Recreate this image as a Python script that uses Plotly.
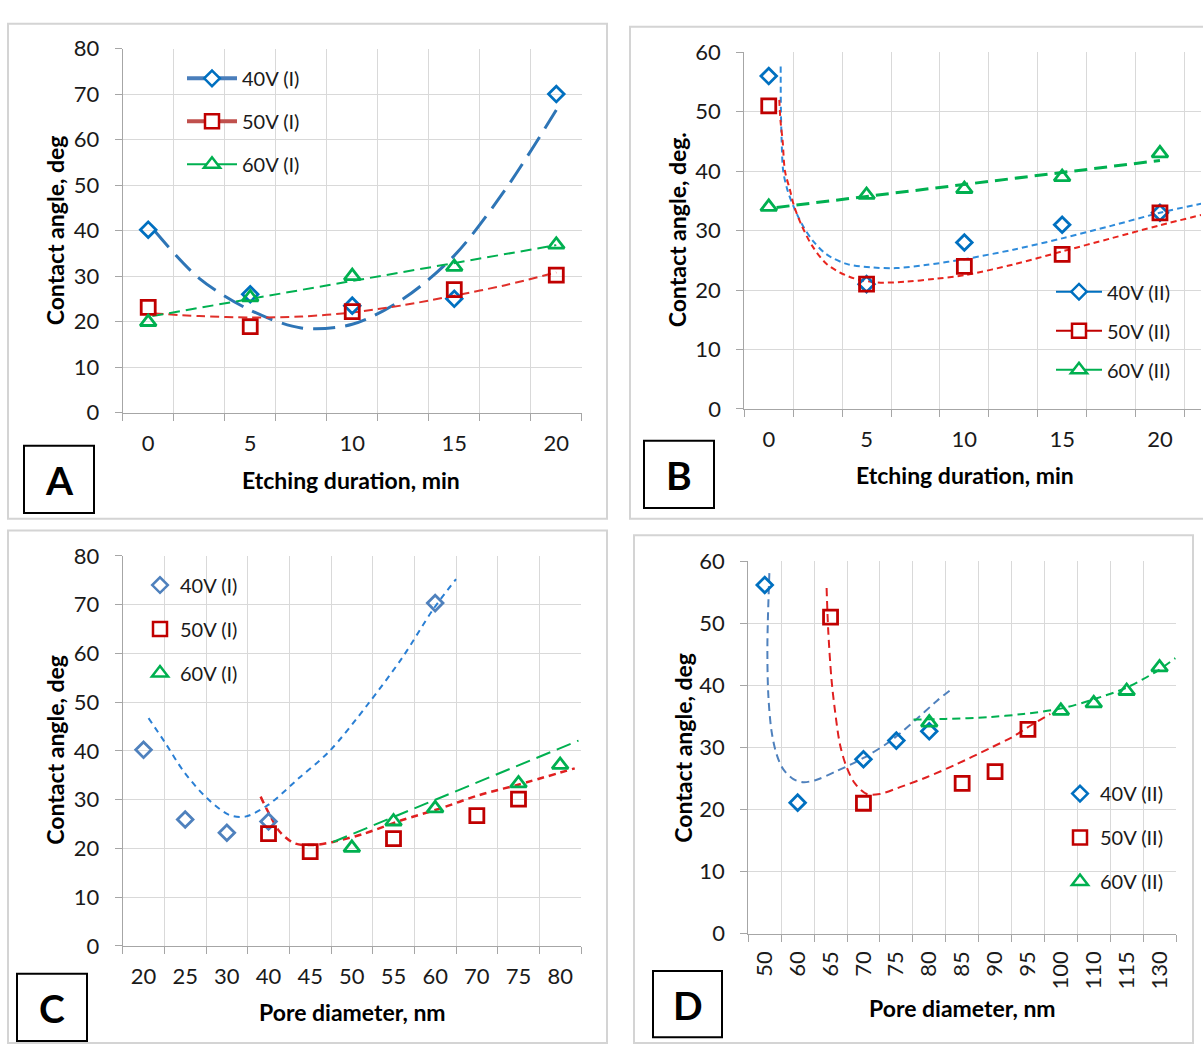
import plotly.graph_objects as go

W, H = 1203, 1058
FONT = "Lato"
TXT = "#1a1a1a"
GRID = "#d9d9d9"
AXIS = "#a6a6a6"
FRAME = "#d4d4d4"

# ---------------- Panel A : etching duration, series (I) ----------------
A_DURATION = [0, 5, 10, 15, 20]
A_40V = [40.2, 26.0, 23.5, 25.0, 70.0]
A_50V = [23.1, 18.9, 22.2, 27.0, 30.2]
A_60V = [19.9, 25.3, 30.0, 32.0, 36.9]
# trendlines
A_TREND40_X = [0.3, 2.5, 5, 7.5, 10, 12.5, 15, 17.5, 20]
A_TREND40_Y = [40.0, 29.5, 22.5, 18.6, 19.4, 25.0, 34.5, 49.0, 66.5]
A_TREND50_X = [0.3, 2.5, 5, 7.5, 10, 12.5, 15, 17.5, 20]
A_TREND50_Y = [21.8, 21.2, 20.9, 21.1, 22.0, 23.6, 25.7, 28.0, 30.8]
A_TREND60_X = [0.2, 20]
A_TREND60_Y = [21.2, 36.8]

# ---------------- Panel B : etching duration, series (II) ----------------
B_DURATION = [0, 5, 10, 15, 20]
B_40V = [56.0, 21.0, 28.0, 31.0, 33.0]
B_50V = [51.0, 21.0, 24.0, 26.0, 33.0]
B_60V = [34.0, 36.0, 37.0, 39.0, 43.0]
B_TREND40_X = [0.61, 0.62, 0.66, 0.74, 0.95, 1.25, 1.73, 2.28, 2.96, 3.98, 5.3, 6.5, 8.0, 10.0, 12.5, 15.0, 17.5, 20.0, 22.2]
B_TREND40_Y = [57.6, 50.6, 45.1, 40.0, 36.9, 34.2, 30.9, 28.2, 26.0, 24.4, 23.8, 23.7, 24.2, 25.2, 26.8, 28.7, 30.8, 33.0, 34.6]
B_TREND50_X = [0.54, 0.6, 0.71, 0.83, 1.08, 1.29, 1.68, 2.19, 2.96, 4.15, 5.5, 7.0, 8.5, 10.0, 12.5, 15.0, 17.5, 20.0, 22.2]
B_TREND50_Y = [52.0, 48.5, 45.1, 40.0, 36.9, 34.2, 30.9, 27.6, 24.4, 22.2, 21.3, 21.4, 21.9, 22.5, 24.3, 26.5, 28.7, 30.9, 32.7]
B_TREND60_X = [0.4, 20]
B_TREND60_Y = [33.9, 41.8]

# ---------------- Panel C : pore diameter, series (I) ----------------
C_CATEGORIES = ["20", "25", "30", "40", "45", "50", "55", "60", "70", "75", "80"]
C_40V_D = ["20", "25", "30", "40", "60"]
C_40V = [40.2, 25.9, 23.2, 25.5, 70.3]
C_50V_D = ["40", "45", "55", "70", "75"]
C_50V = [23.0, 19.3, 22.0, 26.7, 30.1]
C_60V_D = ["50", "55", "60", "75", "80"]
C_60V = [20.1, 25.5, 28.2, 33.3, 37.1]
# trendlines, x in category-index units
C_TREND40_X = [0.12, 0.5, 0.97, 1.52, 2.07, 2.44, 2.99, 3.73, 4.46, 5.38, 6.21, 6.95, 7.5]
C_TREND40_Y = [46.7, 41.9, 35.7, 30.3, 26.8, 26.5, 28.9, 34.4, 39.9, 49.5, 59.1, 69.0, 75.2]
C_TREND50_X = [2.81, 2.99, 3.27, 3.63, 4.09, 4.55, 5.29, 6.21, 7.13, 8.05, 8.97, 10.35]
C_TREND50_Y = [30.6, 27.5, 23.4, 21.0, 20.7, 21.3, 23.0, 25.8, 28.2, 30.9, 33.0, 36.4]
C_TREND60_X = [4.55, 10.44]
C_TREND60_Y = [21.3, 42.1]

# ---------------- Panel D : pore diameter, series (II) ----------------
D_CATEGORIES = ["50", "60", "65", "70", "75", "80", "85", "90", "95", "100", "110", "115", "130"]
D_40V_D = ["50", "60", "70", "75", "80"]
D_40V = [56.2, 21.1, 28.1, 31.1, 32.6]
D_50V_D = ["65", "70", "85", "90", "95"]
D_50V = [51.0, 21.0, 24.2, 26.1, 32.9]
D_60V_D = ["80", "100", "110", "115", "130"]
D_60V = [34.0, 35.9, 37.1, 39.1, 42.9]
D_TREND40_X = [0.14, 0.08, 0.11, 0.21, 0.36, 0.56, 0.87, 1.17, 1.58, 2.19, 3.0, 3.81, 4.62, 5.23, 5.68]
D_TREND40_Y = [58.1, 46.2, 38.3, 32.5, 28.9, 26.5, 24.9, 24.4, 24.8, 26.2, 28.3, 31.0, 34.6, 37.5, 39.4]
D_TREND50_X = [1.88, 1.93, 2.03, 2.14, 2.29, 2.49, 2.74, 3.1, 3.5, 4.11, 4.92, 5.83, 6.85, 7.5, 7.98, 8.68]
D_TREND50_Y = [55.7, 48.8, 40.9, 35.7, 30.4, 26.8, 24.2, 22.5, 22.5, 23.6, 25.2, 27.3, 29.9, 31.6, 33.2, 35.4]
D_TREND60_X = [4.52, 5.5, 6.85, 7.86, 9.03, 10.02, 11.02, 11.95, 12.48]
D_TREND60_Y = [34.5, 34.6, 34.9, 35.4, 36.3, 37.8, 39.7, 42.4, 44.4]

LEG_A = ["40V (I)", "50V (I)", "60V (I)"]
LEG_B = ["40V (II)", "50V (II)", "60V (II)"]
X_TITLE_AB = "Etching duration, min"
X_TITLE_CD = "Pore diameter, nm"

BLUE, RED, GREEN = "#0070C0", "#C00000", "#00B050"


def px_x(p):
    return p / W


def px_y(p):
    return 1 - p / H


def idx(cats, labels):
    return [cats.index(v) for v in labels]


fig = go.Figure()

MK = {
    "d": dict(symbol="diamond", size=12),
    "s": dict(symbol="square", size=14),
    "t": dict(symbol="triangle-up", size=14),
}


def markers(x, y, kind, color, xa, ya, lw=2.8):
    m = dict(MK[kind])
    m["symbol"] = m["symbol"] + "-open"
    m.update(color=color, line=dict(color=color, width=lw))
    fig.add_trace(go.Scatter(x=x, y=y, mode="markers", marker=m, xaxis=xa, yaxis=ya,
                             showlegend=False, hoverinfo="skip", cliponaxis=False))


def trend(x, y, color, width, dash, xa, ya):
    fig.add_trace(go.Scatter(x=x, y=y, mode="lines", xaxis=xa, yaxis=ya, showlegend=False,
                             hoverinfo="skip",
                             line=dict(color=color, width=width, dash=dash, shape="spline", smoothing=0.9)))


def legend_item(name, kind, mcolor, lcolor, lwidth, legend, group, with_line=True):
    m = dict(MK[kind])
    m.update(color="white", line=dict(color=mcolor, width=2.5))
    fig.add_trace(go.Scatter(x=[None], y=[None], name=name, legend=legend, legendgroup=group,
                             mode="lines+markers" if with_line else "markers",
                             line=dict(color=lcolor, width=lwidth), marker=m,
                             xaxis="x", yaxis="y", hoverinfo="skip"))


# ---- Panel A
trend(A_TREND40_X, A_TREND40_Y, "#2E75B6", 3, "22px,10px", "x", "y")
trend(A_TREND50_X, A_TREND50_Y, "#E0302A", 2, "9px,5px", "x", "y")
trend(A_TREND60_X, A_TREND60_Y, "#00B050", 2, "11px,6px", "x", "y")
markers(A_DURATION, A_40V, "d", BLUE, "x", "y")
markers(A_DURATION, A_50V, "s", RED, "x", "y")
markers(A_DURATION, A_60V, "t", GREEN, "x", "y")

# ---- Panel B
trend(B_TREND40_X, B_TREND40_Y, "#2E8BDB", 2, "6px,4px", "x2", "y2")
trend(B_TREND50_X, B_TREND50_Y, "#E8251E", 2, "6px,4px", "x2", "y2")
trend(B_TREND60_X, B_TREND60_Y, "#00B050", 3, "13px,7px", "x2", "y2")
markers(B_DURATION, B_40V, "d", BLUE, "x2", "y2")
markers(B_DURATION, B_50V, "s", RED, "x2", "y2")
markers(B_DURATION, B_60V, "t", GREEN, "x2", "y2")

# ---- Panel C
trend(C_TREND40_X, C_TREND40_Y, "#2A7FD4", 2, "6px,5px", "x3", "y3")
trend(C_TREND50_X, C_TREND50_Y, "#E02020", 2.5, "7px,5px", "x3", "y3")
trend(C_TREND60_X, C_TREND60_Y, "#00B050", 2, "15px,7px", "x3", "y3")
markers(idx(C_CATEGORIES, C_40V_D), C_40V, "d", "#4F81BD", "x3", "y3")
markers(idx(C_CATEGORIES, C_50V_D), C_50V, "s", RED, "x3", "y3")
markers(idx(C_CATEGORIES, C_60V_D), C_60V, "t", GREEN, "x3", "y3")

# ---- Panel D
trend(D_TREND40_X, D_TREND40_Y, "#4F81BD", 2, "8px,5px", "x4", "y4")
trend(D_TREND50_X, D_TREND50_Y, "#E02020", 2, "8px,5px", "x4", "y4")
trend(D_TREND60_X, D_TREND60_Y, "#00B050", 2, "8px,5px", "x4", "y4")
markers(idx(D_CATEGORIES, D_40V_D), D_40V, "d", BLUE, "x4", "y4")
markers(idx(D_CATEGORIES, D_50V_D), D_50V, "s", RED, "x4", "y4")
markers(idx(D_CATEGORIES, D_60V_D), D_60V, "t", GREEN, "x4", "y4")

# ---- legends
legend_item(LEG_A[0], "d", BLUE, "#4A7EBB", 4, "legend", "a1")
legend_item(LEG_A[1], "s", RED, "#C0504D", 4, "legend", "a2")
legend_item(LEG_A[2], "t", GREEN, "#00B050", 2, "legend", "a3")
legend_item(LEG_B[0], "d", BLUE, "#0070C0", 2, "legend2", "b1")
legend_item(LEG_B[1], "s", RED, "#C00000", 2, "legend2", "b2")
legend_item(LEG_B[2], "t", GREEN, "#00B050", 2, "legend2", "b3")
legend_item(LEG_A[0], "d", "#4F81BD", "#4F81BD", 2, "legend3", "c1", False)
legend_item(LEG_A[1], "s", RED, RED, 2, "legend3", "c2", False)
legend_item(LEG_A[2], "t", GREEN, GREEN, 2, "legend3", "c3", False)
legend_item(LEG_B[0], "d", BLUE, BLUE, 2, "legend4", "d1", False)
legend_item(LEG_B[1], "s", RED, RED, 2, "legend4", "d2", False)
legend_item(LEG_B[2], "t", GREEN, GREEN, 2, "legend4", "d3", False)


def leg(x_px, y_px, gap, iw=30):
    return dict(x=px_x(x_px), y=px_y(y_px), xanchor="left", yanchor="top", bgcolor="rgba(0,0,0,0)",
                borderwidth=0, font=dict(family=FONT, size=20, color=TXT), traceorder="grouped",
                tracegroupgap=gap, itemwidth=iw, itemclick=False, itemdoubleclick=False)


# ---- axes
def ax_x(dom_px, rng, tickvals, ticktext, gridvals, anchor, angle=0, standoff=11):
    return dict(domain=[px_x(dom_px[0]), px_x(dom_px[1])], range=rng, anchor=anchor, type="linear",
                tickmode="array", tickvals=tickvals, ticktext=ticktext, tickangle=angle,
                ticks="", showgrid=False, zeroline=False, showline=True, linecolor=AXIS, linewidth=1,
                tickfont=dict(family=FONT, size=22, color=TXT), ticklabelstandoff=standoff,
                minor=dict(tickmode="array", tickvals=gridvals, showgrid=True, gridcolor=GRID, gridwidth=1,
                           ticks="outside", ticklen=7, tickcolor=AXIS, tickwidth=1),
                fixedrange=True)


def ax_y(dom_px, rng, anchor):
    return dict(domain=[px_y(dom_px[1]), px_y(dom_px[0])], range=rng, anchor=anchor, type="linear",
                tickmode="linear", tick0=0, dtick=10, showgrid=True, gridcolor=GRID, gridwidth=1,
                zeroline=False, showline=True, linecolor=AXIS, linewidth=1,
                ticks="outside", ticklen=7, tickcolor=AXIS,
                tickfont=dict(family=FONT, size=22, color=TXT), ticklabelstandoff=11, fixedrange=True)


grid_ab = [-1.25 + 2.5 * k for k in range(10)]
grid_c = [-0.5 + k for k in range(len(C_CATEGORIES) + 1)]
grid_d = [-0.5 + k for k in range(len(D_CATEGORIES) + 1)]

layout = dict(
    width=W, height=H, margin=dict(l=0, r=0, t=0, b=0),
    paper_bgcolor="white", plot_bgcolor="white", showlegend=True,
    font=dict(family=FONT, color=TXT),
    xaxis=ax_x((122.7, 581.8), [-1.25, 21.25], A_DURATION, [str(v) for v in A_DURATION], grid_ab, "y"),
    yaxis=ax_y((35.5, 409.0), [0, 80], "x"),
    xaxis2=ax_x((744.3, 1201.0), [-1.25, -1.25 + (1201.0 - 744.3) / 19.56], B_DURATION,
                [str(v) for v in B_DURATION], grid_ab, "y2"),
    yaxis2=ax_y((39.3, 405.3), [0, 60], "x2"),
    xaxis3=ax_x((122.7, 581.0), [-0.5, len(C_CATEGORIES) - 0.5], list(range(len(C_CATEGORIES))),
                C_CATEGORIES, grid_c, "y3"),
    yaxis3=ax_y((556.0, 956.2), [0, 80], "x3"),
    xaxis4=ax_x((748.3, 1176.0), [-0.5, len(D_CATEGORIES) - 0.5], list(range(len(D_CATEGORIES))),
                D_CATEGORIES, grid_d, "y4", angle=-90, standoff=8),
    yaxis4=ax_y((561.7, 943.6), [0, 60], "x4"),
    legend=leg(182, 46, 14, 50),
    legend2=leg(1051, 265, 10, 46),
    legend3=leg(140, 566, 15),
    legend4=leg(1060, 780, 15),
)
fig.update_layout(**layout)

# ---- frames and panel letter boxes
shapes = []
for (x0, y0, x1, y1) in [(8, 10, 607, 518), (630, 13, 1210, 518), (8, 530, 607, 1056), (634, 535, 1193, 1056)]:
    shapes.append(dict(type="rect", xref="paper", yref="paper", x0=px_x(x0), x1=px_x(x1), y0=px_y(y1), y1=px_y(y0),
                       line=dict(color=FRAME, width=2), fillcolor="rgba(0,0,0,0)", layer="below"))
LETTERS = ["A", "B", "C", "D"]
BOXES = [(24, 443, 94, 512), (644, 438, 714, 507), (17, 985, 87, 1054), (653, 982, 722, 1050)]
annotations = []
for letter, (x0, y0, x1, y1) in zip(LETTERS, BOXES):
    shapes.append(dict(type="rect", xref="paper", yref="paper", x0=px_x(x0), x1=px_x(x1), y0=px_y(y1), y1=px_y(y0),
                       line=dict(color="black", width=2), fillcolor="white"))
    annotations.append(dict(text=letter, xref="paper", yref="paper", x=px_x((x0 + x1) / 2), y=px_y((y0 + y1) / 2 + 1),
                            xanchor="center", yanchor="middle", showarrow=False,
                            font=dict(family=FONT, size=39, color="black", weight="bold")))

TITLES = [
    (X_TITLE_AB, 351, 478, 0), ("Contact angle, deg", 55, 222, -90),
    (X_TITLE_AB, 965, 473, 0), ("Contact angle, deg.", 677, 222, -90),
    (X_TITLE_CD, 352, 1024, 0), ("Contact angle, deg", 55, 755, -90),
    (X_TITLE_CD, 962, 1020, 0), ("Contact angle, deg", 683, 753, -90),
]
for text, x, y, ang in TITLES:
    annotations.append(dict(text=text, xref="paper", yref="paper", x=px_x(x), y=px_y(y), textangle=ang,
                            xanchor="center", yanchor="middle", showarrow=False,
                            font=dict(family=FONT, size=23, color="black", weight="bold")))

fig.update_layout(shapes=shapes, annotations=annotations)
fig.write_html("out.html", include_plotlyjs=True, config={"displayModeBar": False, "staticPlot": True})
